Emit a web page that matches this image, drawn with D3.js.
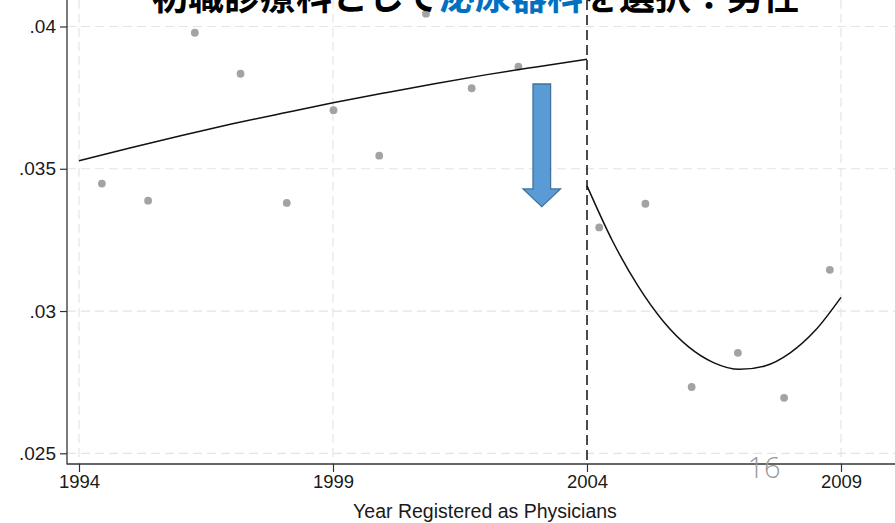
<!DOCTYPE html>
<html>
<head>
<meta charset="utf-8">
<script src="https://cdn.jsdelivr.net/npm/d3@7/dist/d3.min.js"></script>
<style>
  html, body { margin: 0; padding: 0; background: #fff; overflow: hidden; }
  svg { display: block; }
</style>
</head>
<body>
<svg id="chart" width="895" height="523"></svg>
<script>
// Binned means of the share choosing urology, by registration year
const binYears  = [1994.45, 1995.36, 1996.28, 1997.18, 1998.09, 1999.01, 1999.91, 2000.83, 2001.73, 2002.65,
                   2004.24, 2005.15, 2006.06, 2006.97, 2007.88, 2008.78];
const binShares = [0.03448, 0.03388, 0.03978, 0.03834, 0.03380, 0.03706, 0.03546, 0.04045, 0.03783, 0.03859,
                   0.03294, 0.03377, 0.02733, 0.02853, 0.02695, 0.03145];

// Fitted polynomial before the 2004 cutoff
const fitLeftYears  = [1994, 1995, 1996, 1997, 1998, 1999, 2000, 2001, 2002, 2003, 2004];
const fitLeftValues = [0.03528, 0.03573, 0.03616, 0.03657, 0.03695, 0.03732, 0.03766, 0.03799, 0.03830, 0.03858, 0.03885];

// Fitted polynomial after the cutoff
const fitRightYears  = [2004, 2004.5, 2005, 2005.5, 2006, 2006.5, 2007, 2007.5, 2008, 2008.5, 2009];
const fitRightValues = [0.03440, 0.03247, 0.03089, 0.02964, 0.02874, 0.02818, 0.02795, 0.02807, 0.02853, 0.02933, 0.03048];

const cutoffYear = 2004;
const xTickValues = [1994, 1999, 2004, 2009];
const yTickValues = [0.025, 0.03, 0.035, 0.04];

// Downward arrow marking the drop at the cutoff (year, top, head base, tip)
const arrowYear = 2003.11;
const arrowTop = 0.03798;
const arrowHeadBase = 0.03429;
const arrowTip = 0.03367;

const titleParts = [
  { text: "初職診療科として", color: "#000000" },
  { text: "泌尿器科", color: "#0070c0" },
  { text: "を選択：男性", color: "#000000" }
];
const xAxisTitle = "Year Registered as Physicians";
const pageNumber = "16";

const svg = d3.select("#chart");

const x = d3.scaleLinear().domain([1994, 2009]).range([79, 841]);
const y = d3.scaleLinear().domain([0.025, 0.04]).range([453.3, 26.5]);

const axisLeftX = 67;
const axisBottomY = 464;
const plotRight = 903;
const tickFont = "'Liberation Sans', Arial, sans-serif";

// Grid
const grid = svg.append("g").attr("class", "grid");
grid.selectAll("line.h").data(yTickValues).enter().append("line")
  .attr("x1", axisLeftX).attr("x2", plotRight)
  .attr("y1", d => y(d)).attr("y2", d => y(d))
  .attr("stroke", "#e4e4e4").attr("stroke-width", 1.2).attr("stroke-dasharray", "9,5");
grid.selectAll("line.v").data(xTickValues.filter(d => d !== cutoffYear)).enter().append("line")
  .attr("x1", d => x(d)).attr("x2", d => x(d))
  .attr("y1", 0).attr("y2", axisBottomY)
  .attr("stroke", "#e4e4e4").attr("stroke-width", 1.2).attr("stroke-dasharray", "9,5");

// Scatter of binned means
svg.append("g").selectAll("circle").data(binYears).enter().append("circle")
  .attr("cx", d => x(d))
  .attr("cy", (d, i) => y(binShares[i]))
  .attr("r", 3.9)
  .attr("fill", "#a3a3a3");

// Fitted curves
const line = d3.line().x(d => x(d[0])).y(d => y(d[1])).curve(d3.curveMonotoneX);
svg.append("path")
  .datum(d3.zip(fitLeftYears, fitLeftValues))
  .attr("d", line).attr("fill", "none").attr("stroke", "#111").attr("stroke-width", 1.5);
svg.append("path")
  .datum(d3.zip(fitRightYears, fitRightValues))
  .attr("d", line).attr("fill", "none").attr("stroke", "#111").attr("stroke-width", 1.5);

// Cutoff line
svg.append("line")
  .attr("x1", x(cutoffYear)).attr("x2", x(cutoffYear))
  .attr("y1", 0).attr("y2", axisBottomY)
  .attr("stroke", "#111").attr("stroke-width", 1.5).attr("stroke-dasharray", "10,5");

// Axes
const fmt = d => d3.format(".3~f")(d).replace(/^0/, "");
const gy = svg.append("g").attr("transform", `translate(${axisLeftX},0)`)
  .call(d3.axisLeft(y).tickValues(yTickValues).tickFormat(fmt).tickSize(7).tickPadding(4));
gy.select(".domain").remove();
gy.selectAll(".tick line").attr("stroke", "#333").attr("stroke-width", 1.2);
gy.selectAll(".tick text").attr("font-family", tickFont).attr("font-size", 19).attr("fill", "#1a1a1a");
svg.append("line").attr("x1", axisLeftX).attr("x2", axisLeftX).attr("y1", 0).attr("y2", axisBottomY + 0.6)
  .attr("stroke", "#333").attr("stroke-width", 1.3);

const gx = svg.append("g").attr("transform", `translate(0,${axisBottomY})`)
  .call(d3.axisBottom(x).tickValues(xTickValues).tickFormat(d3.format("d")).tickSize(8).tickPadding(3));
gx.select(".domain").remove();
gx.selectAll(".tick line").attr("stroke", "#333").attr("stroke-width", 1.2);
gx.selectAll(".tick text").attr("font-family", tickFont).attr("font-size", 18.5).attr("fill", "#1a1a1a");
svg.append("line").attr("x1", axisLeftX).attr("x2", plotRight).attr("y1", axisBottomY).attr("y2", axisBottomY)
  .attr("stroke", "#333").attr("stroke-width", 1.3);

svg.append("text")
  .attr("x", (axisLeftX + plotRight) / 2).attr("y", 518)
  .attr("text-anchor", "middle")
  .attr("font-family", tickFont).attr("font-size", 19.5).attr("fill", "#1a1a1a")
  .text(xAxisTitle);

// Arrow
const ax = x(arrowYear), shaftHalf = 8.8, headHalf = 18.7;
const arrowPath = d3.path();
arrowPath.moveTo(ax - shaftHalf, y(arrowTop));
arrowPath.lineTo(ax + shaftHalf, y(arrowTop));
arrowPath.lineTo(ax + shaftHalf, y(arrowHeadBase));
arrowPath.lineTo(ax + headHalf, y(arrowHeadBase));
arrowPath.lineTo(ax, y(arrowTip));
arrowPath.lineTo(ax - headHalf, y(arrowHeadBase));
arrowPath.lineTo(ax - shaftHalf, y(arrowHeadBase));
arrowPath.closePath();
svg.append("path").attr("d", arrowPath.toString())
  .attr("fill", "#5b9bd5").attr("stroke", "#41719c").attr("stroke-width", 1.3);

// Page number
svg.append("text")
  .attr("x", 764).attr("y", 478)
  .attr("text-anchor", "middle")
  .attr("font-family", "'Open Sans', sans-serif").attr("font-weight", 300)
  .attr("font-size", 29).attr("fill", "#9a9a9a")
  .text(pageNumber);

// Title (its upper part runs past the top edge of the slide crop)
const title = svg.append("text")
  .attr("x", 152).attr("y", 10)
  .attr("font-family", "'Noto Sans CJK JP', sans-serif")
  .attr("font-weight", 700).attr("font-size", 36);
title.selectAll("tspan").data(titleParts).enter().append("tspan")
  .attr("fill", d => d.color)
  .text(d => d.text);
</script>
</body>
</html>
